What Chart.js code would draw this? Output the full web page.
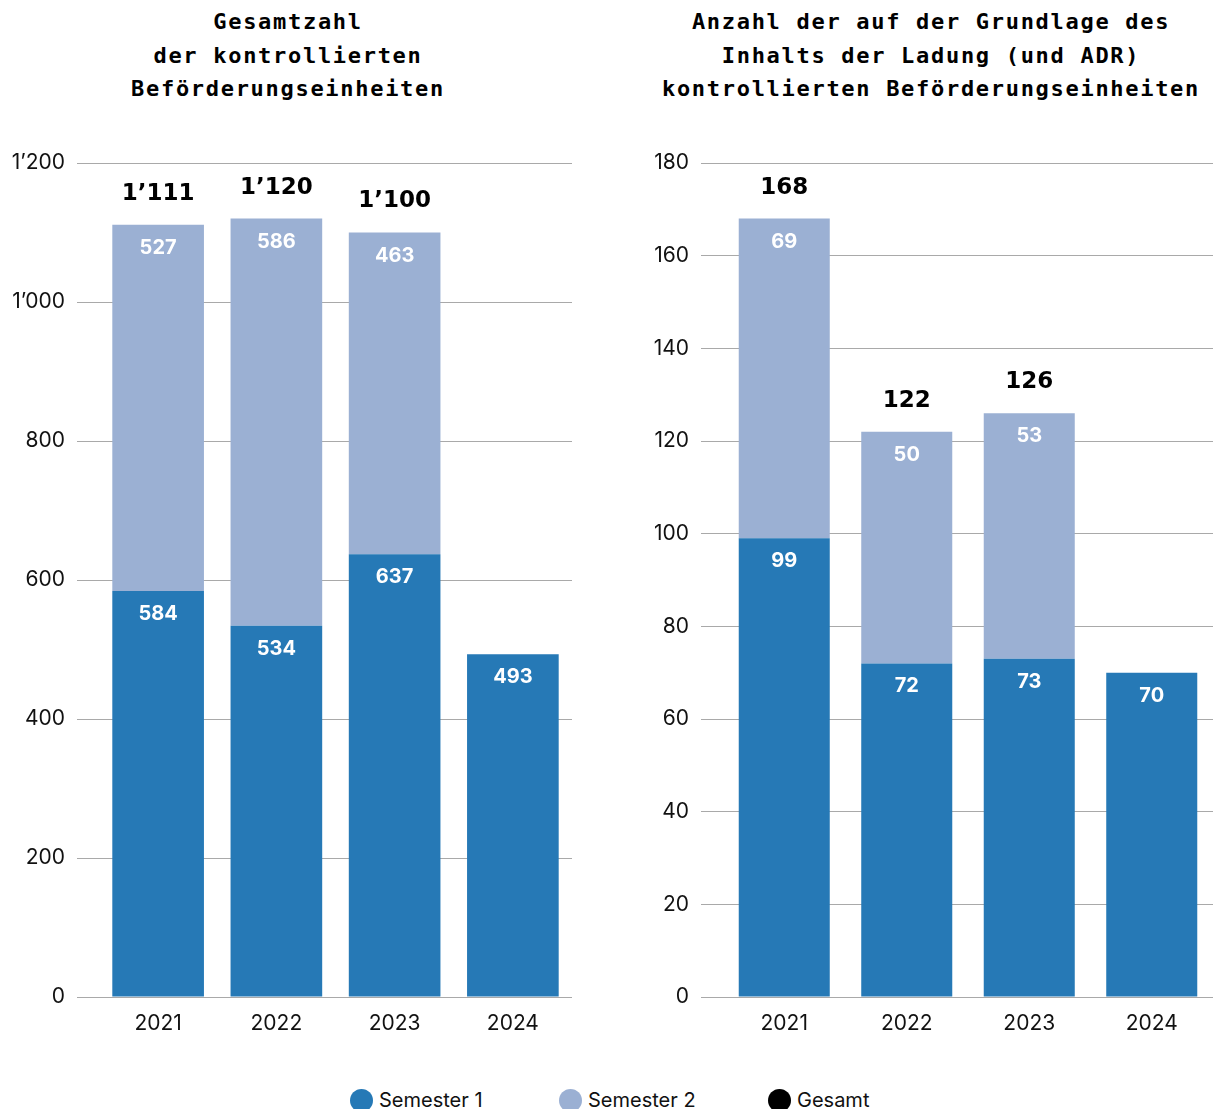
<!DOCTYPE html>
<html lang="de">
<head>
<meta charset="utf-8">
<title>Kontrollierte Beförderungseinheiten</title>
<script src="https://cdn.jsdelivr.net/npm/chart.js@4.4.1/dist/chart.umd.min.js"></script>
<style>
  html, body { margin: 0; padding: 0; background: #fff; }
  #page { position: relative; width: 1213px; height: 1109px; overflow: hidden; }
  .title {
    position: absolute; top: 5px; width: 600px; margin-left: -300px;
    text-align: center; font-family: "DejaVu Sans Mono", monospace; font-weight: bold;
    font-size: 22px; line-height: 33.5px; letter-spacing: 1.7px; color: #000;
  }
  canvas { position: absolute; top: 0; }
  #legend {
    position: absolute; top: 1088px; left: 350px; display: flex; gap: 0;
    font-family: Inter, "Noto Sans", sans-serif; font-size: 20px; color: #111;
  }
  .item { display: flex; align-items: center; width: 209px; }
  .dot { width: 23px; height: 23px; border-radius: 50%; margin-right: 6px; }
</style>
</head>
<body>
<div id="page">
  <div class="title" style="left:288px">Gesamtzahl<br>der kontrollierten<br>Beförderungseinheiten</div>
  <div class="title" style="left:931px">Anzahl der auf der Grundlage des<br>Inhalts der Ladung (und ADR)<br>kontrollierten Beförderungseinheiten</div>
  <canvas id="chartTotal" width="572" height="1051" style="left:0"></canvas>
  <canvas id="chartCargo" width="613" height="1051" style="left:600px"></canvas>
  <div id="legend"></div>
</div>
<script>
// ---------------------------------------------------------------------------
// Data
// ---------------------------------------------------------------------------
const years = ['2021', '2022', '2023', '2024'];

// Gesamtzahl der kontrollierten Beförderungseinheiten
const totalSem1 = [584, 534, 637, 493];
const totalSem2 = [527, 586, 463, null];
const totalAll = [1111, 1120, 1100, null];

// Kontrolliert auf der Grundlage des Inhalts der Ladung (und ADR)
const cargoSem1 = [99, 72, 73, 70];
const cargoSem2 = [69, 50, 53, null];
const cargoAll = [168, 122, 126, null];

const seriesNames = ['Semester 1', 'Semester 2', 'Gesamt'];
const seriesColors = ['#2679b6', '#9bb0d3', '#000000'];

const totalTicks = { max: 1200, step: 200 };
const cargoTicks = { max: 180, step: 20 };

// ---------------------------------------------------------------------------
// Helpers
// ---------------------------------------------------------------------------
const labelFont = 'Inter, "Noto Sans", sans-serif';
const totalFont = '"DejaVu Sans", Inter, sans-serif';

function formatSwiss(value) {
  // 1200 -> 1’200
  return String(value).replace(/\B(?=(\d{3})+(?!\d))/g, '\u2019');
}

// Draws white values inside each segment and the black total above the stack
const valueLabels = {
  id: 'valueLabels',
  afterDatasetsDraw(chart, args, opts) {
    const ctx = chart.ctx;
    const yScale = chart.scales.y;
    ctx.save();
    ctx.textAlign = 'center';
    ctx.textBaseline = 'middle';

    chart.data.datasets.forEach((ds, i) => {
      const meta = chart.getDatasetMeta(i);
      meta.data.forEach((bar, j) => {
        const v = ds.data[j];
        if (v == null) return;
        ctx.fillStyle = '#ffffff';
        ctx.font = `bold 20px ${labelFont}`;
        ctx.fillText(formatSwiss(v), bar.x, bar.y + 23);
      });
    });

    const firstMeta = chart.getDatasetMeta(0);
    opts.totals.forEach((t, j) => {
      if (t == null) return;
      const x = firstMeta.data[j].x;
      ctx.fillStyle = '#000000';
      ctx.font = `bold 23px ${totalFont}`;
      ctx.fillText(formatSwiss(t), x, yScale.getPixelForValue(t) - 31);
    });
    ctx.restore();
  }
};

function renderStackedChart(canvasId, sem1, sem2, totals, ticks, axisWidth, barPct) {
  const ctx = document.getElementById(canvasId).getContext('2d');

  const chartData = {
    labels: years,
    datasets: [
      { label: seriesNames[0], data: sem1, backgroundColor: seriesColors[0] },
      { label: seriesNames[1], data: sem2, backgroundColor: seriesColors[1] }
    ]
  };

  const options = {
    responsive: false,
    animation: false,
    layout: { padding: { top: 163, right: 0, bottom: 0, left: 0 } },
    datasets: {
      bar: { barPercentage: barPct, categoryPercentage: 1, borderWidth: 0 }
    },
    plugins: {
      legend: { display: false },
      tooltip: { enabled: false },
      valueLabels: { totals: totals }
    },
    scales: {
      x: {
        stacked: true,
        grid: { display: false, drawTicks: false },
        border: { display: false },
        ticks: {
          padding: 14,
          color: '#111',
          font: { family: labelFont, size: 21 }
        },
        afterFit(scale) { scale.height = 54; }
      },
      y: {
        stacked: true,
        min: 0,
        max: ticks.max,
        grid: {
          color: '#a9a9a9',
          lineWidth: 1,
          drawTicks: true,
          tickLength: 22,
          tickColor: '#a9a9a9'
        },
        border: { display: false },
        ticks: {
          stepSize: ticks.step,
          padding: 12,
          color: '#111',
          font: { family: labelFont, size: 21 },
          callback: value => formatSwiss(value)
        },
        afterFit(scale) { scale.width = axisWidth; }
      }
    }
  };

  return new Chart(ctx, {
    type: 'bar',
    data: chartData,
    options: options,
    plugins: [valueLabels]
  });
}

renderStackedChart('chartTotal', totalSem1, totalSem2, totalAll, totalTicks, 99, 0.775);
renderStackedChart('chartCargo', cargoSem1, cargoSem2, cargoAll, cargoTicks, 123, 0.743);

// Shared legend
const legend = document.getElementById('legend');
seriesNames.forEach((name, i) => {
  const item = document.createElement('div');
  item.className = 'item';
  const dot = document.createElement('span');
  dot.className = 'dot';
  dot.style.background = seriesColors[i];
  const label = document.createElement('span');
  label.textContent = name;
  item.appendChild(dot);
  item.appendChild(label);
  legend.appendChild(item);
});
</script>
</body>
</html>
